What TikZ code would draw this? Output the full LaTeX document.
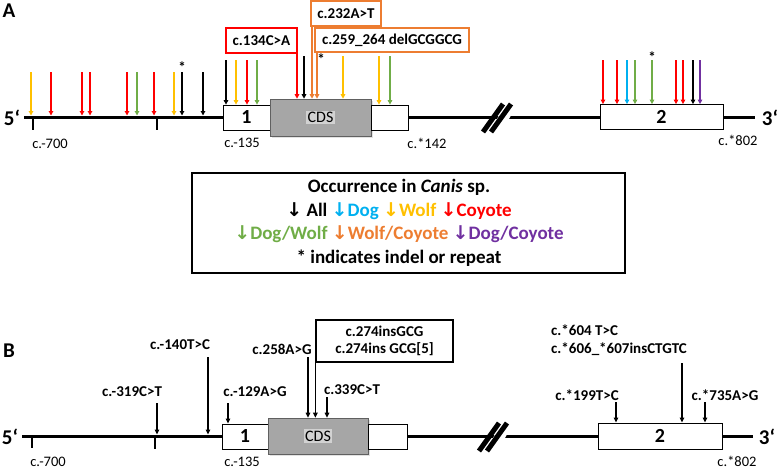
\documentclass[tikz,border=0pt]{standalone}
\usepackage{fontspec}
\setmainfont{Carlito}
\newfontfamily\arrowfont{DejaVu Sans}
\usetikzlibrary{arrows.meta,shadows}

\definecolor{cRed}{RGB}{255,0,0}
\definecolor{cWolf}{RGB}{255,192,0}
\definecolor{cDW}{RGB}{112,173,71}
\definecolor{cDog}{RGB}{0,176,240}
\definecolor{cWC}{RGB}{237,125,49}
\definecolor{cDC}{RGB}{112,48,160}
\newcommand{\dn}{{\arrowfont\char"2193}}
\newcommand{\grv}{{\char"60}}

\begin{document}
\begin{tikzpicture}[x=1pt,y=-1pt,
    every node/.style={inner sep=0pt},
    lbl/.style={font=\fontsize{15}{17}\selectfont\bfseries},
    coordlbl/.style={font=\fontsize{14.5}{17}\selectfont},
    big/.style={font=\fontsize{21}{21}\selectfont\bfseries},
    exon/.style={draw, fill=white, line width=0.8pt, minimum height=25pt, font=\fontsize{20}{20}\selectfont\bfseries},
    cds/.style={draw=gray!75!black, fill=gray!70, line width=0.6pt, minimum height=37pt,
        drop shadow={shadow xshift=1.5pt, shadow yshift=-1.5pt, fill=gray!45},
        font=\fontsize{16}{17}\selectfont},
    gene/.style={line width=3pt},
    tickmark/.style={line width=1.5pt},
    snp/.style={line width=1.4pt, -{Triangle[length=4.5pt,width=4.5pt]}},
    snpB/.style={line width=1.2pt, -{Triangle[length=5pt,width=4.5pt]}},
    mbox/.style={draw, line width=1.5pt, minimum height=25pt, lbl}]
\useasboundingbox (0,0) rectangle (777,471);

% panel A
\node[big] (tagA) at (9,11) {A};
\coordinate (lineA) at (24,117);
\draw[gene] (lineA) -- (755,117);
\node[big] (fiveA) at (12,118) {5\grv};
\node[big] (threeA) at (770,118) {3\grv};
\draw[tickmark] (33,117) -- (33,130);
\draw[tickmark] (157,117) -- (157,130);
\node[exon, minimum width=47pt] (exon1A) at (246.5,117.5) {1};
\node[cds, minimum width=101pt] (cdsA) at (320.5,117.5) {\setlength\fboxsep{1.5pt}\colorbox{gray!35}{CDS}};
\node[exon, minimum width=37pt] (utr3A) at (389.5,117.5) {};
\node[exon, minimum width=123pt] (exon2A) at (661.5,117) {2};
\fill[white] (486,138) -- (498,138) -- (521,98) -- (509,98) -- cycle;
\draw[line width=5pt] (483,132) -- (503,104);
\draw[line width=5pt] (491,132) -- (511,104);
\node[coordlbl] (p700A) at (50,144) {c.-700};
\node[coordlbl] (p135A) at (242,143) {c.-135};
\node[coordlbl] (p142A) at (427,143) {c.*142};
\node[coordlbl] (p802A) at (738,140) {c.*802};

\foreach \x/\c in {31/cWolf,51/cRed,82/cRed,90/cRed,127/cRed,137/cDW,154/cRed,174/cWolf,182/black,203/black}
    \draw[snp,\c,shorten >=1.5pt] (\x,72) -- (\x,0 |- lineA);
\foreach \x/\c in {226/black,236/cWolf,247/cRed,257/cDW}
    \draw[snp,\c] (\x,60) -- (\x,0 |- exon1A.north);
\foreach \x/\c in {304/black,343/cWolf}
    \draw[snp,\c] (\x,56) -- (\x,0 |- cdsA.north);
\foreach \x/\c in {379/cWolf,390/cDW}
    \draw[snp,\c] (\x,56) -- (\x,0 |- utr3A.north);
\foreach \x/\c in {603/cRed,617/cRed,627/cDog,635/cDW,652/cDW,676/cRed,683/cRed,693/black,700/cDC}
    \draw[snp,\c] (\x,60) -- (\x,0 |- exon2A.north);
\node[lbl] (starA1) at (182,67) {*};
\node[lbl] (starA2) at (321,59) {*};
\node[lbl] (starA3) at (652,57) {*};

\node[mbox, draw=cRed, minimum width=71pt] (m134) at (261.5,40.5) {c.134C>A};
\node[mbox, draw=cWC, minimum width=70pt] (m232) at (346,13.5) {c.232A>T};
\node[mbox, draw=cWC, minimum width=154pt, minimum height=24pt] (m259) at (392,40) {c.259\_264 delGCGGCG};
\draw[snp,cRed] (297,0 |- m134.south) -- (297,0 |- cdsA.north);
\draw[snp,cWC] (312,0 |- m232.south) -- (312,0 |- cdsA.north);
\draw[snp,cWC] (317,0 |- m259.south) -- (317,0 |- cdsA.north);

\node[draw, line width=1.2pt, minimum width=433pt, minimum height=100pt] (legend) at (408.5,223) {};
\node[align=center, font=\fontsize{19}{23.5}\selectfont\bfseries] (legendtext) at (399,223)
    {Occurrence in \textit{Canis} sp.\\
     \dn{} All {\color{cDog}\dn Dog} {\color{cWolf}\dn Wolf} {\color{cRed}\dn Coyote}\\
     {\color{cDW}\dn Dog/Wolf} {\color{cWC}\dn Wolf/Coyote} {\color{cDC}\dn Dog/Coyote}\\
     * indicates indel or repeat};

% panel B
\node[big] (tagB) at (9,351) {B};
\coordinate (lineB) at (22,436);
\draw[gene] (lineB) -- (753,436);
\node[big] (fiveB) at (10,437) {5\grv};
\node[big] (threeB) at (767,437) {3\grv};
\draw[tickmark] (32,436) -- (32,448);
\draw[tickmark] (155,436) -- (155,449);
\node[exon, minimum width=46pt] (exon1B) at (245,436.5) {1};
\node[cds, minimum width=100pt, minimum height=36pt] (cdsB) at (318,436) {\setlength\fboxsep{1.5pt}\colorbox{gray!35}{CDS}};
\node[exon, minimum width=39pt] (utr3B) at (387.5,436.5) {};
\node[exon, minimum width=124pt, minimum height=26pt] (exon2B) at (660,436) {2};
\fill[white] (482,457) -- (494,457) -- (517,417) -- (505,417) -- cycle;
\draw[line width=5pt] (479,451) -- (499,423);
\draw[line width=5pt] (487,451) -- (507,423);
\node[coordlbl] (p700B) at (48,462) {c.-700};
\node[coordlbl] (p135B) at (242,462) {c.-135};
\node[coordlbl] (p802B) at (737,461) {c.*802};

\node[lbl] (v140) at (180,345) {c.-140T>C};
\node[lbl] (v319) at (132,392) {c.-319C>T};
\node[lbl] (v129) at (255,392) {c.-129A>G};
\node[lbl] (v258) at (282,349) {c.258A>G};
\node[lbl, draw, line width=1.2pt, minimum width=137pt, minimum height=42pt, align=center,
    font=\fontsize{15}{17}\selectfont\bfseries] (v274) at (384.5,341) {c.274insGCG\\c.274ins GCG[5]};
\node[lbl] (v339) at (352,390) {c.339C>T};
\node[lbl, anchor=west, align=left, font=\fontsize{15}{18}\selectfont\bfseries] (v606) at (551,340)
    {c.*604 T>C\\c.*606\_*607insCTGTC};
\node[lbl] (v199) at (587,395) {c.*199T>C};
\node[lbl] (v735) at (725,395) {c.*735A>G};

\draw[snpB,shorten >=1.5pt] (157,403) -- (157,0 |- lineB);
\draw[snpB,shorten >=1.5pt] (208,357) -- (208,0 |- lineB);
\draw[snpB] (228,403) -- (228,0 |- exon1B.north);
\draw[snpB] (308,357) -- (308,0 |- cdsB.north);
\draw[snpB] (v274.south west) -- (v274.south west |- cdsB.north);
\draw[snpB] (327,397) -- (327,0 |- cdsB.north);
\draw[snpB] (616,402) -- (616,0 |- exon2B.north);
\draw[snpB] (682,363) -- (682,0 |- exon2B.north);
\draw[snpB] (705,402) -- (705,0 |- exon2B.north);
\end{tikzpicture}
\end{document}
